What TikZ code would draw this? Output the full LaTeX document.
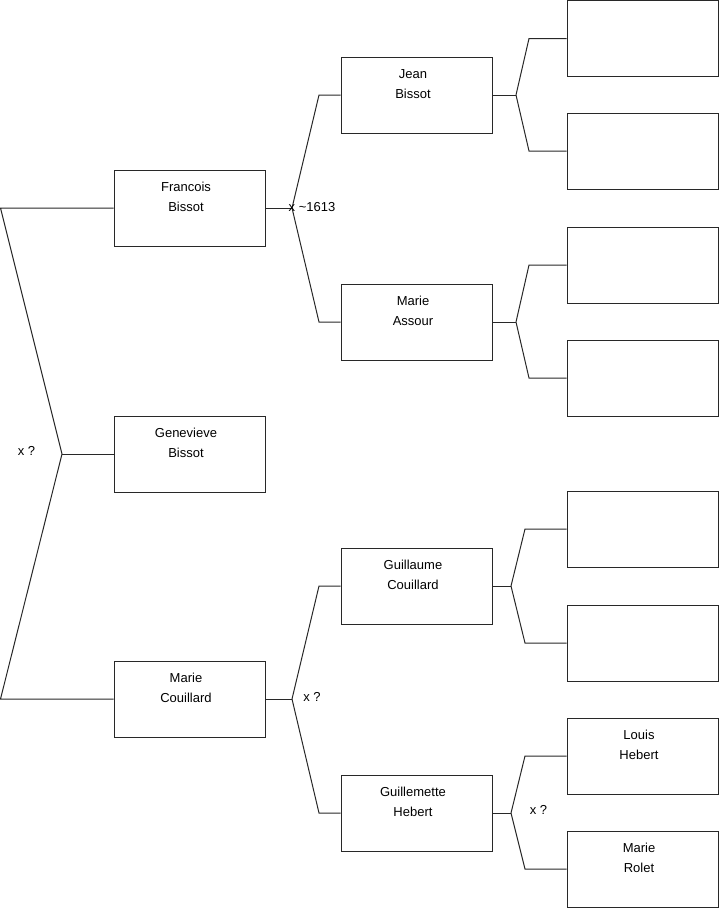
\documentclass[tikz,border=0pt]{standalone}
\usepackage{fontspec}
\setmainfont{Liberation Sans}
\begin{document}
\begin{tikzpicture}[x=1pt,y=-1pt,
  box/.style={draw=linec, line width=1pt, minimum width=151pt, minimum height=76pt, inner sep=0pt},
  txt/.style={align=center, inner sep=0pt, xshift=-3.5pt, yshift=0.8pt, font=\fontsize{13}{20}\selectfont},
  conn/.style={draw=linec, line width=1pt},
  lbl/.style={font=\fontsize{13}{15}\selectfont, inner sep=0pt}]
\definecolor{linec}{RGB}{40,40,40}
\useasboundingbox (0,0) rectangle (719,908);
% level 1
\node[box, label={[txt]center:Francois\\Bissot\\~}] (fb) at (189.5,208) {};
\node[box, label={[txt]center:Genevieve\\Bissot\\~}] (gb) at (189.5,454) {};
\node[box, label={[txt]center:Marie\\Couillard\\~}] (mc) at (189.5,699) {};
% level 2
\node[box, label={[txt]center:Jean\\Bissot\\~}] (jb) at (416.5,95) {};
\node[box, label={[txt]center:Marie\\Assour\\~}] (ma) at (416.5,322) {};
\node[box, label={[txt]center:Guillaume\\Couillard\\~}] (gc) at (416.5,586) {};
\node[box, label={[txt]center:Guillemette\\Hebert\\~}] (gh) at (416.5,813) {};
% level 3
\node[box] (r1) at (642.5,38.5) {};
\node[box] (r2) at (642.5,151) {};
\node[box] (r3) at (642.5,265) {};
\node[box] (r4) at (642.5,378) {};
\node[box] (r5) at (642.5,529) {};
\node[box] (r6) at (642.5,643) {};
\node[box, label={[txt]center:Louis\\Hebert\\~}] (r7) at (642.5,756) {};
\node[box, label={[txt]center:Marie\\Rolet\\~}] (r8) at (642.5,869) {};
% junctions
\coordinate (lt) at (0.5,208);
\coordinate (lb) at (0.5,699);
\coordinate (jl) at (62,454);
\coordinate (j1) at (292,208);
\coordinate (j1a) at (319,95);
\coordinate (j1b) at (319,322);
\coordinate (j2) at (292,699);
\coordinate (j2a) at (319,586);
\coordinate (j2b) at (319,813);
\coordinate (j3) at (516,95);
\coordinate (j3a) at (529,38.5);
\coordinate (j3b) at (529,151);
\coordinate (j4) at (516,322);
\coordinate (j4a) at (529,265);
\coordinate (j4b) at (529,378);
\coordinate (j5) at (511,586);
\coordinate (j5a) at (525,529);
\coordinate (j5b) at (525,643);
\coordinate (j6) at (511,813);
\coordinate (j6a) at (525,756);
\coordinate (j6b) at (525,869);
% connectors
\draw[conn] (fb.west) -- (lt) -- (jl) -- (lb) -- (mc.west);
\draw[conn] (jl) -- (gb.west);
\draw[conn] (fb.east) -- (j1);
\draw[conn] (j1) -- (j1a) -- (jb.west);
\draw[conn] (j1) -- (j1b) -- (ma.west);
\draw[conn] (mc.east) -- (j2);
\draw[conn] (j2) -- (j2a) -- (gc.west);
\draw[conn] (j2) -- (j2b) -- (gh.west);
\draw[conn] (jb.east) -- (j3);
\draw[conn] (j3) -- (j3a) -- (r1.west);
\draw[conn] (j3) -- (j3b) -- (r2.west);
\draw[conn] (ma.east) -- (j4);
\draw[conn] (j4) -- (j4a) -- (r3.west);
\draw[conn] (j4) -- (j4b) -- (r4.west);
\draw[conn] (gc.east) -- (j5);
\draw[conn] (j5) -- (j5a) -- (r5.west);
\draw[conn] (j5) -- (j5b) -- (r6.west);
\draw[conn] (gh.east) -- (j6);
\draw[conn] (j6) -- (j6a) -- (r7.west);
\draw[conn] (j6) -- (j6b) -- (r8.west);
% labels
\node[lbl, anchor=west] (l1) at (288.5,207) {x \textasciitilde 1613};
\node[lbl] (l0) at (26.5,451) {x ?};
\node[lbl] (l2) at (312,697) {x ?};
\node[lbl] (l3) at (538.5,810) {x ?};
\end{tikzpicture}
\end{document}
